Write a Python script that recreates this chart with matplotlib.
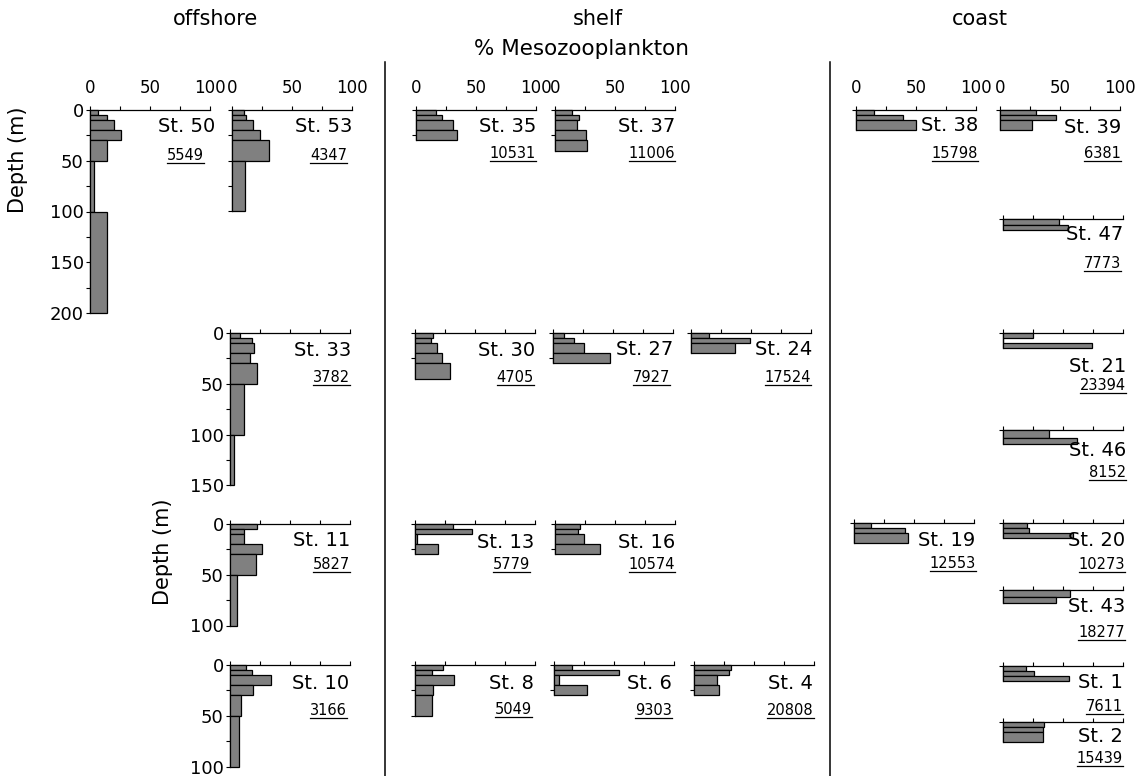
import matplotlib
matplotlib.use("Agg")
from matplotlib import pyplot as plt
from matplotlib.lines import Line2D

# === DATA ===
station_names = ["St. 50", "St. 53", "St. 35", "St. 37", "St. 38", "St. 39", "St. 47",
                 "St. 33", "St. 30", "St. 27", "St. 24", "St. 21", "St. 46",
                 "St. 11", "St. 13", "St. 16", "St. 19", "St. 20", "St. 43",
                 "St. 10", "St. 8", "St. 6", "St. 4", "St. 1", "St. 2"]

totals = ["5549", "4347", "10531", "11006", "15798", "6381", "7773",
          "3782", "4705", "7927", "17524", "23394", "8152",
          "5827", "5779", "10574", "12553", "10273", "18277",
          "3166", "5049", "9303", "20808", "7611", "15439"]

# depth layer boundaries (m) for each station
depth_edges = [
    [0, 5, 10, 20, 30, 50, 100, 200],
    [0, 5, 10, 20, 30, 50, 100],
    [0, 5, 10, 20, 30],
    [0, 5, 10, 20, 30, 40],
    [0, 5, 10, 20],
    [0, 5, 10, 20],
    [0, 6, 11],
    [0, 5, 10, 20, 30, 50, 100, 150],
    [0, 5, 10, 20, 30, 45],
    [0, 5, 10, 20, 30],
    [0, 5, 10, 20],
    [0, 5, 10, 15],
    [0, 8, 14],
    [0, 5, 10, 20, 30, 50, 100],
    [0, 5, 10, 20, 30],
    [0, 5, 10, 20, 30],
    [0, 5, 10, 20],
    [0, 5, 10, 15],
    [0, 7, 13],
    [0, 5, 10, 20, 30, 50, 100],
    [0, 5, 10, 20, 30, 50],
    [0, 5, 10, 20, 30],
    [0, 5, 10, 20, 30],
    [0, 5, 10, 15],
    [0, 5, 10, 20],
]

# % of mesozooplankton in each layer
percent = [
    [6.4, 14, 20, 25.7, 14.5, 3.6, 14],
    [10, 11.7, 17.8, 23.3, 31, 10.8],
    [17, 22, 30.5, 34],
    [14, 20, 18.7, 26, 27],
    [14.8, 39, 50],
    [30, 46.6, 26.5],
    [47, 54],
    [8.6, 18, 20, 16.4, 22.8, 11.7, 3.6],
    [15.4, 13.4, 18.7, 22.3, 28.8],
    [8.9, 17.8, 25.8, 47.8],
    [14.8, 49, 36.6],
    [25.4, 0, 74],
    [38, 62],
    [22.8, 12, 12, 27, 22, 6],
    [32, 47.6, 1.4, 18.8],
    [20.8, 19.4, 24.4, 37.5],
    [13.9, 42.5, 44.7],
    [20, 22, 58.6],
    [56, 44],
    [13.3, 18, 34, 19.4, 9.2, 7.8],
    [23, 14, 32.8, 14.8, 14],
    [15.3, 54, 4.2, 27.8],
    [30.7, 29.3, 19, 21],
    [19, 25.8, 54.7],
    [34, 33, 33],
]

region_names = ["offshore", "shelf", "coast"]

# === LAYOUT (figure pixels) ===
W, H, DPI = 1137, 776, 100
PX_PER_M = 1.015
PANEL_W = 120

# x0, y0 (top axis), label dy, number dy, label dx, number dx
layout = {
    "St. 50": (90, 110, 15, 45, 5, -6),
    "St. 53": (232, 110, 15, 45, 0, -5),
    "St. 35": (416, 110, 15, 43, 0, 0),
    "St. 37": (555, 110, 15, 43, 0, 0),
    "St. 38": (856, 110, 14, 43, 2, 2),
    "St. 39": (1000, 110, 16, 43, 1, 1),
    "St. 47": (1003, 219, 14, 44, 0, -2),
    "St. 33": (230, 333, 16, 44, 1, 0),
    "St. 30": (415, 333, 16, 44, 0, -1),
    "St. 27": (553, 333, 15, 44, 0, -3),
    "St. 24": (691, 333, 15, 44, 1, 0),
    "St. 21": (1003, 333, 32, 52, 3, 3),
    "St. 46": (1003, 430, 19, 42, 3, 3),
    "St. 11": (230, 524, 15, 40, 0, 0),
    "St. 13": (415, 524, 17, 40, -1, -5),
    "St. 16": (555, 524, 17, 40, 0, 0),
    "St. 19": (854, 523, 16, 40, 1, 2),
    "St. 20": (1003, 523, 16, 41, 2, 2),
    "St. 43": (1003, 590, 15, 42, 2, 2),
    "St. 10": (230, 665, 17, 45, -1, -3),
    "St. 8": (415, 665, 17, 44, -1, -3),
    "St. 6": (554, 665, 17, 45, -2, -2),
    "St. 4": (694, 665, 17, 45, -1, 0),
    "St. 1": (1003, 666, 15, 40, 0, 0),
    "St. 2": (1003, 722, 13, 36, 0, 0),
}
x_labelled = {"St. 50", "St. 53", "St. 35", "St. 37", "St. 38", "St. 39"}
y_labelled = {"St. 50", "St. 33", "St. 11", "St. 10"}

plt.rcParams['font.family'] = ['DejaVu Sans']
fig = plt.figure(figsize=(W / DPI, H / DPI), dpi=DPI)


def fx(x):
    return x / W


def fy(y):
    return 1 - y / H


# === PANELS ===
numbers = []
for name, total, edges, pct in zip(station_names, totals, depth_edges, percent):
    x0, y0, ldy, ndy, ldx, ndx = layout[name]
    max_depth = edges[-1]
    h = max_depth * PX_PER_M
    ax = fig.add_axes([fx(x0), fy(y0 + h), PANEL_W / W, h / H])
    tops = edges[:-1]
    heights = [b - t for t, b in zip(edges[:-1], edges[1:])]
    ax.barh(tops, pct, height=heights, left=0, align='edge', color='#808080',
            edgecolor='black', linewidth=0.9, clip_on=False, zorder=3)
    ax.set_xlim(0, 100)
    ax.set_ylim(max_depth, 0)
    ax.patch.set_alpha(0)

    for side in ('right', 'bottom'):
        ax.spines[side].set_visible(False)
    for side in ('top', 'left'):
        ax.spines[side].set_linewidth(0.9)

    ax.xaxis.tick_top()
    ax.set_xticks([0, 25, 50, 75, 100])
    ax.set_xticklabels(['0', '', '50', '', '100'] if name in x_labelled else [])
    ax.tick_params(axis='x', direction='out', length=3, width=0.8, pad=6.5, labelsize=12)

    yt = list(range(0, int(max_depth) + 1, 25))
    ax.set_yticks(yt)
    if name in y_labelled:
        ax.set_yticklabels([str(v) if v % 50 == 0 else '' for v in yt])
    else:
        ax.set_yticklabels([])
    ax.tick_params(axis='y', direction='out', length=3, width=0.8, pad=1.5, labelsize=13)

    x100 = x0 + PANEL_W
    fig.text(fx(x100 + ldx), fy(y0 + ldy + 7), name, ha='right', va='baseline', fontsize=14)
    t = fig.text(fx(x100 + ndx), fy(y0 + ndy + 5), total, ha='right', va='baseline', fontsize=10.5)
    numbers.append((t, y0 + ndy + 5))

# === HEADERS / LABELS ===
fig.text(fx(215), fy(19), region_names[0], ha='center', va='center', fontsize=15)
fig.text(fx(598), fy(19), region_names[1], ha='center', va='center', fontsize=15)
fig.text(fx(980), fy(19), region_names[2], ha='center', va='center', fontsize=15)
fig.text(fx(582), fy(49), '% Mesozooplankton', ha='center', va='center', fontsize=15.5)
fig.text(fx(18), fy(160), 'Depth (m)', ha='center', va='center', rotation=90, fontsize=15)
fig.text(fx(163), fy(552), 'Depth (m)', ha='center', va='center', rotation=90, fontsize=15)

# region dividers
for xd in (385, 830):
    fig.add_artist(Line2D([fx(xd), fx(xd)], [fy(62), fy(776)], color='black', linewidth=1.1))

# underline totals
fig.canvas.draw()
renderer = fig.canvas.get_renderer()
for t, base_y in numbers:
    bb = t.get_window_extent(renderer)
    x_a, x_b = bb.x0 / W, bb.x1 / W
    fig.add_artist(Line2D([x_a, x_b], [fy(base_y + 3), fy(base_y + 3)],
                          color='black', linewidth=0.9))

fig.savefig('out.png', dpi=DPI)
